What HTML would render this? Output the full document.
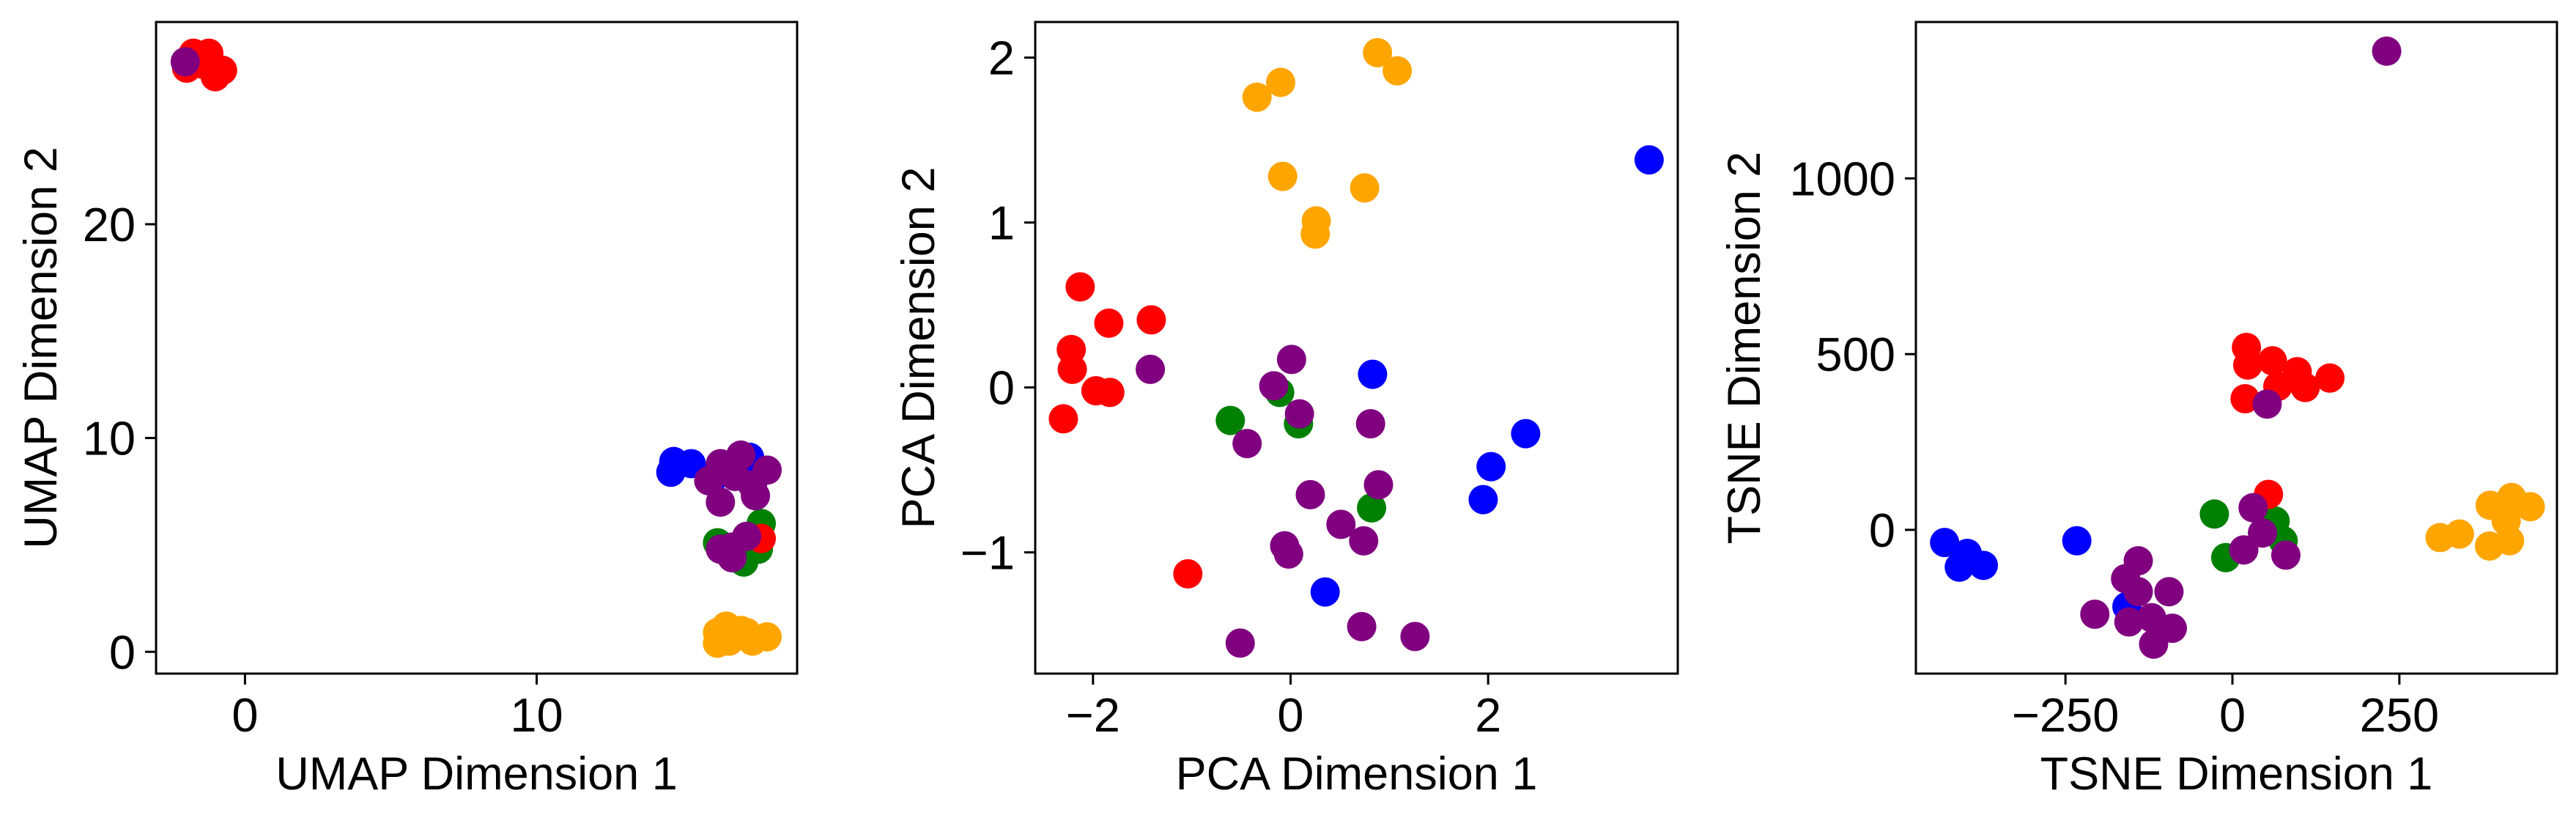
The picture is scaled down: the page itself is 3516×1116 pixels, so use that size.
<!DOCTYPE html>
<html><head><meta charset="utf-8">
<style>
html,body{margin:0;padding:0;background:#fff;}
svg{display:block;font-family:"Liberation Sans",Arial,sans-serif;}
</style></head>
<body>
<svg id="fig" width="3516" height="1116" viewBox="0 0 3516 1116" xmlns="http://www.w3.org/2000/svg"></svg>
<script>
// ---- data: UMAP ----
const umapOrangeX=[16.2,16.5,16.2,17.0,16.6,17.4,17.9,17.2];
const umapOrangeY=[0.9,1.2,0.4,1.0,0.5,0.5,0.7,0.9];
const umapBlueX=[14.6,14.7,15.3,16.1,17.3];
const umapBlueY=[8.4,8.9,8.8,8.2,9.1];
const umapGreenX=[16.2,17.7,17.6,17.1];
const umapGreenY=[5.1,6.0,4.8,4.2];
const umapRedX=[-1.77,-1.24,-2.0,-0.77,-1.02,-1.5,17.7];
const umapRedY=[28.0,28.0,27.3,27.2,26.9,27.5,5.3];
const umapPurpleX=[-2.05,15.9,16.3,17.0,17.9,16.3,17.5,16.8,17.4,16.7,17.2,16.7,16.3];
const umapPurpleY=[27.6,8.0,8.8,9.2,8.5,7.0,7.3,8.2,7.8,4.9,5.4,4.4,4.8];
// ---- data: PCA ----
const pcaOrangeX=[-0.34,-0.10,0.88,1.08,-0.08,0.75,0.26,0.25];
const pcaOrangeY=[1.76,1.85,2.03,1.92,1.28,1.21,1.01,0.93];
const pcaBlueX=[3.63,0.83,2.38,2.03,1.95,0.35];
const pcaBlueY=[1.38,0.08,-0.28,-0.48,-0.68,-1.24];
const pcaGreenX=[-0.61,-0.11,0.08,0.82];
const pcaGreenY=[-0.20,-0.03,-0.22,-0.73];
const pcaRedX=[-2.13,-1.84,-1.41,-2.22,-2.21,-1.97,-1.83,-2.30,-1.04];
const pcaRedY=[0.61,0.39,0.41,0.23,0.11,-0.02,-0.03,-0.19,-1.13];
const pcaPurpleX=[-1.42,0.01,-0.17,0.09,-0.44,0.81,0.89,0.20,0.51,0.74,-0.06,-0.02,0.72,1.26,-0.51];
const pcaPurpleY=[0.11,0.17,0.01,-0.16,-0.34,-0.22,-0.59,-0.65,-0.83,-0.93,-0.96,-1.01,-1.45,-1.51,-1.55];
// ---- data: TSNE ----
const tsneOrangeX=[311,340,386,418,446,410,385,415];
const tsneOrangeY=[-22,-12,70,92,66,25,-46,-31];
const tsneBlueX=[-431,-397,-409,-373,-233,-158];
const tsneBlueY=[-36,-67,-106,-101,-31,-218];
const tsneGreenX=[-27,64,76,-10];
const tsneGreenY=[45,25,-31,-79];
const tsneRedX=[21,23,60,97,146,109,68,19,54];
const tsneRedY=[519,469,481,450,432,405,408,373,101];
const tsnePurpleX=[231,52,31,45,17,80,-141,-160,-141,-95,-206,-155,-121,-90,-118];
const tsnePurpleY=[1362,358,63,-9,-57,-72,-88,-139,-176,-176,-240,-262,-250,-280,-325];
// ---- ticks ----
const umapXTicks=[0,10], umapYTicks=[0,10,20];
const pcaXTicks=[-2,0,2], pcaYTicks=[-1,0,1,2];
const tsneXTicks=[-250,0,250], tsneYTicks=[0,500,1000];

const NS="http://www.w3.org/2000/svg";
const svg=document.getElementById('fig');
function el(tag,attrs,parent){const e=document.createElementNS(NS,tag);for(const k in attrs)e.setAttribute(k,attrs[k]);(parent||svg).appendChild(e);return e;}
function fmt(v){return v<0?'\u2212'+Math.abs(v):String(v);}

const panels=[
 {key:'umap',L:213,R:1088,T:30,B:919,xmin:-3.05,xmax:18.93,ymin:-1.02,ymax:29.46,xt:umapXTicks,yt:umapYTicks,xl:'UMAP Dimension 1',yl:'UMAP Dimension 2',ylx:56,
  series:[[umapOrangeX,umapOrangeY,'#ffa500','orange'],[umapBlueX,umapBlueY,'#0000ff','blue'],[umapGreenX,umapGreenY,'#008000','green'],[umapRedX,umapRedY,'#ff0000','red'],[umapPurpleX,umapPurpleY,'#800080','purple']]},
 {key:'pca',L:1413,R:2290,T:30,B:919,xmin:-2.585,xmax:3.92,ymin:-1.735,ymax:2.216,xt:pcaXTicks,yt:pcaYTicks,xl:'PCA Dimension 1',yl:'PCA Dimension 2',ylx:1254,
  series:[[pcaOrangeX,pcaOrangeY,'#ffa500','orange'],[pcaBlueX,pcaBlueY,'#0000ff','blue'],[pcaGreenX,pcaGreenY,'#008000','green'],[pcaRedX,pcaRedY,'#ff0000','red'],[pcaPurpleX,pcaPurpleY,'#800080','purple']]},
 {key:'tsne',L:2615,R:3490,T:30,B:919,xmin:-474,xmax:486,ymin:-409,ymax:1445,xt:tsneXTicks,yt:tsneYTicks,xl:'TSNE Dimension 1',yl:'TSNE Dimension 2',ylx:2381,
  series:[[tsneOrangeX,tsneOrangeY,'#ffa500','orange'],[tsneBlueX,tsneBlueY,'#0000ff','blue'],[tsneGreenX,tsneGreenY,'#008000','green'],[tsneRedX,tsneRedY,'#ff0000','red'],[tsnePurpleX,tsnePurpleY,'#800080','purple']]}
];

panels.forEach(p=>{
  const g=el('g',{});
  
  
  const sx=v=>p.L+(v-p.xmin)/(p.xmax-p.xmin)*(p.R-p.L);
  const sy=v=>p.B-(v-p.ymin)/(p.ymax-p.ymin)*(p.B-p.T);
  p.series.forEach(s=>{
    const sg=el('g',{},g);
    
    
    s[0].forEach((x,i)=>{
      const c=el('circle',{cx:sx(x),cy:sy(s[1][i]),r:20,fill:s[2]},sg);
      
      
    });
  });
  const frame=el('rect',{x:p.L,y:p.T,width:p.R-p.L,height:p.B-p.T,fill:'none',stroke:'#000','stroke-width':3},g);
  
  
  p.xt.forEach(v=>{
    const x=sx(v);
    el('line',{x1:x,x2:x,y1:p.B,y2:p.B+15,stroke:'#000','stroke-width':3},g);
    const t=el('text',{x:x,y:998,'text-anchor':'middle','font-size':65,fill:'#000'},g);
    t.textContent=fmt(v);
    
    
  });
  p.yt.forEach(v=>{
    const y=sy(v);
    el('line',{x1:p.L-15,x2:p.L,y1:y,y2:y,stroke:'#000','stroke-width':3},g);
    const t=el('text',{x:p.L-28,y:y+23,'text-anchor':'end','font-size':65,fill:'#000'},g);
    t.textContent=fmt(v);
    
    
  });
  const xl=el('text',{x:(p.L+p.R)/2,y:1077,'text-anchor':'middle','font-size':63,fill:'#000'},g);
  xl.textContent=p.xl;
  
  
  const cy=(p.T+p.B)/2;
  const yl=el('text',{x:p.ylx,y:cy,'text-anchor':'middle','dominant-baseline':'central','font-size':63,fill:'#000',transform:'rotate(-90 '+p.ylx+' '+cy+')'},g);
  yl.textContent=p.yl;
  
  
});
</script>
</body></html>
